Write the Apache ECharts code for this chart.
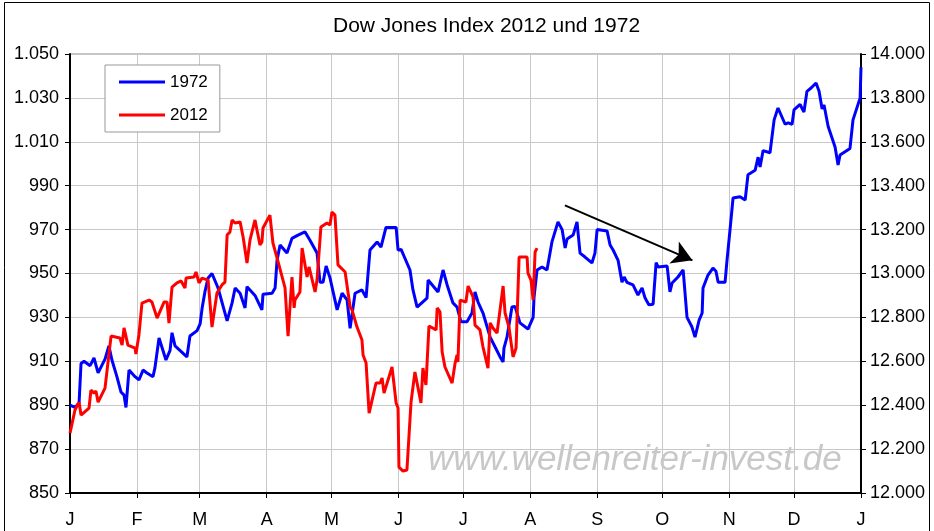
<!DOCTYPE html>
<html>
<head>
<meta charset="utf-8">
<script src="https://cdn.jsdelivr.net/npm/echarts@6/dist/echarts.min.js"></script>
<style>
  html, body { margin: 0; padding: 0; background: #fff; }
  #main { width: 934px; height: 531px; }
</style>
</head>
<body>
<div id="main"></div>
<script>
// Dow Jones 1972 (linke Achse) und 2012 (rechte Achse), x = Tage seit 1. Januar
var monthLetters = ['J', 'F', 'M', 'A', 'M', 'J', 'J', 'A', 'S', 'O', 'N', 'D', 'J'];
var leftTicks = [850, 870, 890, 910, 930, 950, 970, 990, 1010, 1030, 1050];

var days1972 = [0, 2.3, 4.2, 5.1, 6.5, 9.3, 11.1, 13.0, 16.2, 18.0,
  19.4, 21.7, 23.6, 25.0, 25.9, 27.3, 30.1, 31.9, 33.8, 35.6,
  38.4, 39.3, 41.2, 44.4, 46.3, 47.2, 48.6, 54.1, 55.5, 58.8,
  60.2, 61.1, 62.5, 63.9, 65.7, 68.5, 72.7, 75.0, 76.4, 78.7,
  81.0, 81.9, 85.6, 88.8, 89.3, 93.5, 94.9, 95.8, 97.2, 100.4,
  102.7, 105.5, 108.7, 111.1, 114.3, 115.7, 117.1, 118.5, 120.3, 123.6,
  125.9, 128.2, 129.6, 131.9, 135.1, 137.0, 138.8, 142.1, 143.9, 146.2,
  150.9, 151.8, 153.2, 157.3, 158.7, 160.6, 165.2, 165.7, 170.3, 172.6,
  174.5, 177.2, 179.1, 180.9, 183.7, 186.0, 187.4, 188.8, 191.1, 194.4,
  196.7, 199.0, 200.4, 200.8, 202.2, 204.5, 205.9, 208.2, 211.9, 214.3,
  214.7, 216.1, 218.4, 220.7, 223.0, 225.8, 227.7, 229.1, 230.0, 232.8,
  234.6, 236.0, 238.3, 241.5, 242.9, 243.9, 248.5, 249.9, 251.3, 253.6,
  255.4, 256.4, 257.7, 260.5, 262.8, 264.7, 266.1, 267.9, 269.8, 271.2,
  272.1, 276.3, 277.6, 278.6, 281.3, 283.7, 285.5, 287.8, 289.2, 291.1,
  292.5, 292.9, 295.2, 297.5, 298.9, 299.9, 303.1, 304.0, 305.4, 306.8,
  310.0, 312.4, 313.7, 317.0, 318.4, 319.3, 320.7, 323.9, 325.8, 327.6,
  330.9, 332.3, 334.1, 335.0, 337.8, 339.6, 341.0, 342.9, 345.2, 346.6,
  348.0, 348.9, 350.8, 352.6, 354.0, 355.4, 356.3, 360.9, 362.3, 365.6,
  366];
var dow1972 = [890, 889, 891, 909, 910, 908, 911.5, 904.7, 911, 917,
  910.6, 903, 896, 894.6, 889, 906, 903, 901.5, 906, 904.7,
  903, 907, 920.6, 910.6, 915, 923, 917, 912, 921.5, 924,
  927, 934, 942, 948, 950, 943.4, 928.4, 936.6, 943.4, 941,
  934.3, 944, 940, 933.4, 940.6, 941, 943.4, 956, 963, 959.3,
  966, 967.5, 969, 965, 959.3, 946, 946, 953.4, 948, 933.4,
  941, 938, 925, 941, 942.5, 939, 960.7, 964.4, 962, 971,
  971, 960.7, 961, 951.6, 942.5, 934.7, 938.8, 947, 941.6, 951.6,
  944.8, 936.6, 934.7, 928, 928, 932, 941.6, 937, 932, 921,
  916.5, 912, 909.7, 916, 921, 934.7, 935, 927.5, 924.7, 930,
  939, 951.6, 953, 951.6, 964.4, 973.5, 970, 961.6, 965.7, 967.5,
  973.5, 959.3, 957.5, 954.8, 959.3, 970, 969.4, 963, 960.7, 956,
  946, 948.4, 946, 944.8, 940.2, 943.4, 938.8, 935.7, 936, 955,
  953, 953.4, 941.6, 945.7, 948.4, 951.6, 930, 925.6, 921, 928.8,
  932, 943.4, 949.3, 952.5, 951, 946, 946, 956, 970, 984.4,
  985, 983.5, 995, 997, 1003, 998.5, 1006, 1005, 1020, 1025.4,
  1018, 1018.6, 1018, 1024.5, 1027, 1023.6, 1033, 1034.5, 1036.8, 1033,
  1025, 1026.8, 1017, 1011.7, 1007.6, 999.4, 1004, 1007, 1020, 1030,
  1044];

var days2012 = [0, 2.3, 4.2, 5.1, 8.8, 9.7, 11.1, 12.0, 13.0, 16.2,
  19.0, 23.1, 24.1, 25.0, 26.8, 30.1, 30.5, 31.9, 33.3, 36.6,
  37.9, 40.3, 43.5, 44.9, 45.8, 47.2, 49.5, 51.4, 53.2, 53.7,
  57.4, 58.3, 59.7, 61.1, 63.9, 65.7, 68.0, 70.3, 71.7, 72.7,
  74.0, 75.0, 76.4, 78.7, 80.1, 81.9, 83.3, 85.6, 87.9, 88.8,
  89.3, 92.5, 93.9, 95.8, 99.5, 100.9, 102.7, 103.7, 104.1, 106.4,
  107.4, 109.7, 110.6, 113.4, 114.3, 116.1, 118.9, 120.3, 121.2, 122.6,
  123.1, 124.0, 127.3, 129.6, 130.5, 132.8, 135.1, 135.6, 137.0, 138.4,
  141.6, 143.5, 144.4, 145.3, 149.0, 150.9, 151.8, 152.2, 154.1, 155.9,
  157.8, 159.6, 162.4, 163.3, 164.7, 166.1, 169.4, 169.9, 171.2, 172.2,
  173.5, 176.8, 178.2, 179.1, 179.5, 180.5, 183.2, 184.2, 186.5, 187.4,
  189.7, 191.1, 193.4, 194.4, 195.7, 197.6, 200.4, 201.3, 203.1, 205.0,
  206.4, 207.8, 211.5, 211.9, 213.3, 214.3, 215.2, 216.1];
var dow2012 = [12273, 12378, 12414, 12355, 12387, 12469, 12455, 12465, 12414, 12478,
  12715, 12706, 12674, 12752, 12674, 12660, 12633, 12720, 12865, 12879,
  12870, 12797, 12870, 12870, 12774, 12938, 12957, 12966, 12934, 12979,
  12984, 13007, 12957, 12979, 12970, 12756, 12911, 12948, 12961, 13175,
  13189, 13244, 13230, 13235, 13166, 13048, 13153, 13244, 13130, 13144,
  13207, 13266, 13139, 13071, 12934, 12715, 12984, 12843, 12879, 12916,
  13116, 12984, 13030, 12916, 12970, 13212, 13230, 13221, 13280, 13266,
  13257, 13039, 13007, 12847, 12834, 12756, 12697, 12629, 12592, 12364,
  12501, 12501, 12524, 12455, 12574, 12410, 12387, 12118, 12100, 12105,
  12414, 12551, 12410, 12569, 12492, 12761, 12743, 12843, 12825, 12642,
  12574, 12501, 12592, 12629, 12597, 12879, 12870, 12943, 12893, 12765,
  12743, 12665, 12569, 12775, 12752, 12729, 12943, 12820, 12756, 12620,
  12660, 13075, 13075, 13002, 12970, 12879, 13098, 13116];

// Monatsanfaenge als Tag-Nummer (Schaltjahr 2012)
var monthStarts = [];
for (var m = 0; m <= 12; m++) {
  monthStarts.push((Date.UTC(2012, m, 1) - Date.UTC(2012, 0, 1)) / 86400000);
}

function toData(days, vals) {
  var out = [];
  for (var i = 0; i < days.length; i++) out.push([days[i], vals[i]]);
  return out;
}
function deNum(v) {
  return String(v).replace(/\B(?=(\d{3})+(?!\d))/g, '.');
}

var font = 'Liberation Sans, Arial, sans-serif';
var myChart = echarts.init(document.getElementById('main'));

var option = {
  backgroundColor: '#fff',
  animation: false,
  title: {
    text: 'Dow Jones Index 2012 und 1972',
    left: 328,
    top: 11,
    textStyle: { fontFamily: font, fontSize: 21, fontWeight: 'normal', color: '#000' }
  },
  legend: {
    orient: 'vertical',
    left: 105,
    top: 65,
    padding: [7, 12, 7, 14],
    icon: 'rect',
    itemWidth: 46,
    itemHeight: 3,
    itemGap: 13,
    borderColor: '#999',
    borderWidth: 1,
    backgroundColor: '#fff',
    textStyle: { fontFamily: font, fontSize: 17, color: '#000', lineHeight: 20 },
    data: ['1972', '2012']
  },
  grid: { left: 70, right: 73, top: 54, bottom: 38, show: true, borderColor: '#888', borderWidth: 1 },
  xAxis: {
    type: 'value',
    min: 0,
    max: 366,
    axisLine: { lineStyle: { color: '#000', width: 2 } },
    axisTick: { show: true, length: 5, lineStyle: { color: '#000' }, customValues: monthStarts },
    axisLabel: {
      customValues: monthStarts,
      margin: 18,
      fontFamily: font,
      fontSize: 18,
      color: '#000',
      formatter: function (v) { return monthLetters[monthStarts.indexOf(v)]; }
    },
    splitLine: { show: true, lineStyle: { color: '#c8c8c8', width: 1 } }
  },
  yAxis: [
    {
      type: 'value',
      min: 850,
      max: 1050,
      position: 'left',
      axisLine: { show: true, lineStyle: { color: '#000', width: 2 } },
      axisTick: { show: true, length: 5, lineStyle: { color: '#000' }, customValues: leftTicks },
      axisLabel: {
        customValues: leftTicks,
        margin: 11,
        fontFamily: font,
        fontSize: 18,
        color: '#000',
        formatter: function (v) { return deNum(v); }
      },
      splitLine: { show: false }
    },
    {
      type: 'value',
      min: 12000,
      max: 14000,
      interval: 200,
      position: 'right',
      axisLine: { show: true, lineStyle: { color: '#000', width: 2 } },
      axisTick: { show: true, length: 5, lineStyle: { color: '#000' } },
      axisLabel: {
        margin: 9,
        fontFamily: font,
        fontSize: 18,
        color: '#000',
        formatter: function (v) { return deNum(v); }
      },
      splitLine: { show: true, lineStyle: { color: '#c8c8c8', width: 1 } }
    }
  ],
  graphic: [
    {
      type: 'text',
      left: 428,
      top: 443,
      z: 1,
      style: {
        text: 'www.wellenreiter-invest.de',
        font: 'italic 35px Liberation Sans, Arial, sans-serif',
        fill: '#c8c8c8'
      }
    },
    {
      type: 'rect',
      shape: { x: 4.5, y: 2.5, width: 925, height: 540 },
      style: { fill: 'none', stroke: '#000', lineWidth: 1 },
      silent: true
    }
  ],
  series: [
    {
      name: '1972',
      type: 'line',
      yAxisIndex: 0,
      symbol: 'none',
      lineStyle: { color: '#0000ff', width: 3 },
      itemStyle: { color: '#0000ff' },
      z: 3,
      data: toData(days1972, dow1972),
      markLine: {
        silent: true,
        symbol: ['none', 'arrow'],
        symbolSize: [18, 20],
        label: { show: false },
        lineStyle: { color: '#000', width: 2, type: 'solid' },
        data: [[
          { coord: [229, 981] },
          { coord: [288, 956] }
        ]]
      }
    },
    {
      name: '2012',
      type: 'line',
      yAxisIndex: 1,
      symbol: 'none',
      lineStyle: { color: '#ff0000', width: 3 },
      itemStyle: { color: '#ff0000' },
      z: 4,
      data: toData(days2012, dow2012)
    }
  ]
};
myChart.setOption(option);
</script>
</body>
</html>
